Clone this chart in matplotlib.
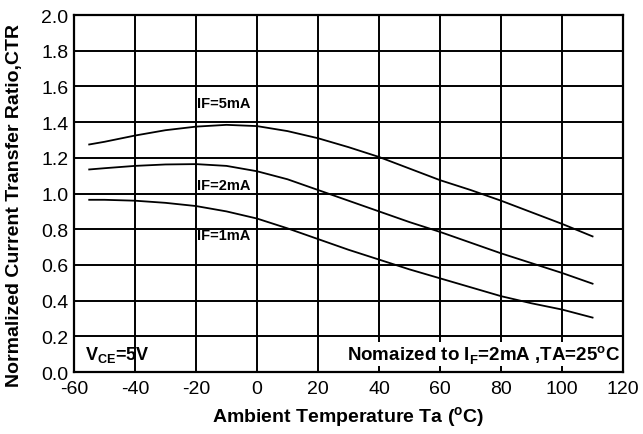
import numpy as np
import matplotlib.pyplot as plt

plt.rcParams['font.family'] = ['Liberation Sans', 'DejaVu Sans']
plt.rcParams['axes.unicode_minus'] = False

# curve samples
temp = [-55, -50, -40, -30, -20, -10, 0, 10, 20, 30, 40, 50, 60, 70, 80, 90, 100, 110]
ctr_5ma = [1.275, 1.29, 1.325, 1.355, 1.375, 1.385, 1.378, 1.35, 1.31, 1.26, 1.205,
           1.14, 1.075, 1.02, 0.96, 0.895, 0.83, 0.76]
ctr_2ma = [1.135, 1.142, 1.155, 1.163, 1.165, 1.155, 1.125, 1.08, 1.02, 0.96, 0.90,
           0.84, 0.785, 0.725, 0.665, 0.61, 0.555, 0.495]
ctr_1ma = [0.965, 0.965, 0.96, 0.948, 0.93, 0.90, 0.86, 0.805, 0.745, 0.685, 0.63,
           0.575, 0.525, 0.475, 0.425, 0.385, 0.35, 0.305]

labels = ['IF=5mA', 'IF=2mA', 'IF=1mA']
label_pos = [(-19.7, 1.51), (-19.7, 1.05), (-19.7, 0.77)]

fig = plt.figure(figsize=(6.43, 4.35), dpi=100)
ax = fig.add_axes([0.115, 0.1425, 0.854, 0.8205])

for y in (ctr_5ma, ctr_2ma, ctr_1ma):
    ax.plot(temp, y, color='black', lw=1.3)

for txt, (x, y) in zip(labels, label_pos):
    ax.text(x, y, txt, fontsize=10.5, fontweight='bold', va='center', ha='left')

ax.text(-56.5, 0.1, r'V$_{\mathregular{CE}}$=5V', fontsize=13, fontweight='bold', va='center')
ax.text(119, 0.1, r'Nomaized to I$_{\mathregular{F}}$=2mA ,TA=25$^{\mathregular{o}}$C',
        fontsize=13.5, fontweight='bold', va='center', ha='right',
        bbox=dict(facecolor='white', edgecolor='none', pad=1))

ax.set_xlim(-60, 120)
ax.set_ylim(0, 2.0)
ax.set_xticks(np.arange(-60, 121, 20))
ax.set_yticks(np.arange(0, 2.01, 0.2))
ax.set_yticklabels([f'{v:.1f}' for v in np.arange(0, 2.01, 0.2)])
ax.grid(True, color='black', lw=1.4)
ax.set_axisbelow(True)
ax.tick_params(length=0, labelsize=14)
ax.tick_params(axis='x', pad=6)
ax.tick_params(axis='y', pad=4)
for s in ax.spines.values():
    s.set_linewidth(1.6)

ax.set_xlabel(r'Ambient Temperature Ta ($^{\mathregular{o}}$C)', fontsize=14, fontweight='bold', labelpad=5)
ax.set_ylabel('Normalized Current Transfer Ratio,CTR', fontsize=14, fontweight='bold')
ax.yaxis.set_label_coords(-0.092, 0.468)

fig.savefig('out.png', dpi=100)
